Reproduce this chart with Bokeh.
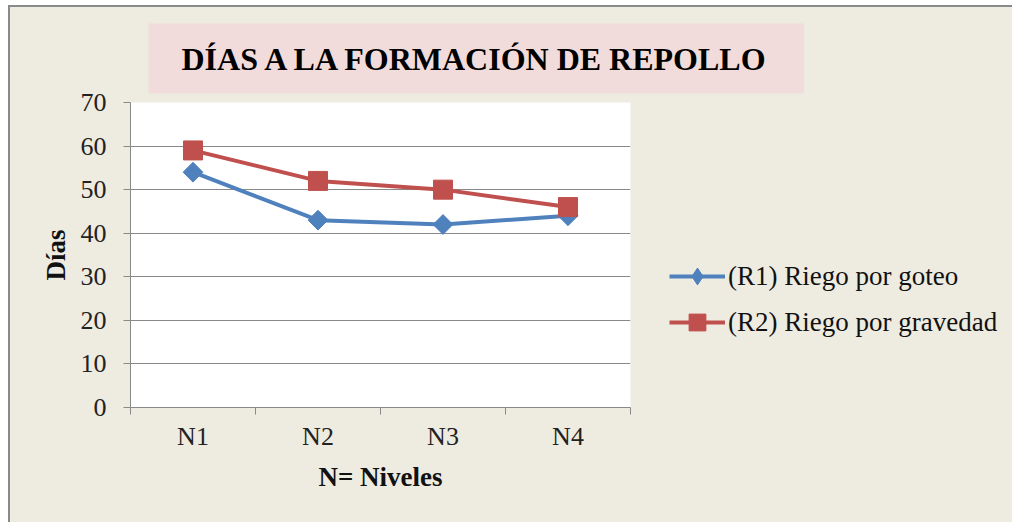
import math
from bokeh.plotting import figure
from bokeh.models import (Range1d, FixedTicker, Legend, LegendItem, Title,
                          ColumnDataSource)
from bokeh.embed import file_html
from bokeh.resources import INLINE

categories = ["N1", "N2", "N3", "N4"]
r1_values = [54, 43, 42, 44]
r2_values = [59, 52, 50, 46]
series_names = ["(R1) Riego por goteo", "(R2) Riego por gravedad"]
y_ticks = [0, 10, 20, 30, 40, 50, 60, 70]
title_text = "DÍAS A LA FORMACIÓN DE REPOLLO"

BG = "#EEEBE1"
PINK = "#F2DCDB"
BLUE = "#4F81BD"
RED = "#C0504D"
GRID = "#898989"
FONT = "Liberation Serif"

xs = [i + 0.5 for i in range(len(categories))]

p = figure(frame_width=500, frame_height=305, output_backend="svg",
           toolbar_location=None,
           x_range=Range1d(0, len(categories)), y_range=Range1d(0, 70),
           min_border_left=120, min_border_top=95, min_border_right=0,
           min_border_bottom=115)
p.styles = {"margin-left": "8px", "margin-top": "5px",
            "border-left": "2px solid #8a8a8a", "border-top": "2px solid #8a8a8a",
            "background-color": BG, "padding-right": "60px"}
p.background_fill_color = "white"
p.border_fill_color = BG
p.outline_line_color = None

# title with pink box
p.title = Title(text=title_text, align="left", offset=18, standoff=18,
                text_font=FONT, text_font_size="32px", text_font_style="bold",
                text_color="#000000", background_fill_color=PINK,
                padding=(33, 17))

# axes
p.xaxis.ticker = FixedTicker(ticks=xs, minor_ticks=list(range(len(categories) + 1)))
p.xaxis.major_label_overrides = {x: c for x, c in zip(xs, categories)}
p.xaxis.major_tick_line_color = None
p.xaxis.minor_tick_line_color = GRID
p.xaxis.minor_tick_out = 7
p.xaxis.minor_tick_in = 0
p.yaxis.ticker = FixedTicker(ticks=y_ticks)
p.yaxis.major_tick_line_color = GRID
p.yaxis.major_tick_out = 7
p.yaxis.major_tick_in = 0
p.yaxis.minor_tick_line_color = None
for ax in (p.xaxis, p.yaxis):
    ax.axis_line_color = GRID
    ax.major_label_text_font = FONT
    ax.major_label_text_font_size = "26px"
    ax.major_label_text_color = "#222222"
    ax.axis_label_text_font = FONT
    ax.axis_label_text_font_size = "27px"
    ax.axis_label_text_font_style = "bold"
    ax.axis_label_text_color = "#111111"
p.xaxis.major_label_standoff = 7
p.yaxis.major_label_standoff = 17
p.xaxis.axis_label = "N= Niveles"
p.yaxis.axis_label = "Días"
p.xaxis.axis_label_standoff = 8
p.yaxis.axis_label_standoff = 7

p.xgrid.grid_line_color = None
p.ygrid.ticker = FixedTicker(ticks=y_ticks)
p.ygrid.grid_line_color = GRID
p.ygrid.grid_line_width = 1

src = ColumnDataSource(dict(x=xs, r1=r1_values, r2=r2_values))
l1 = p.line("x", "r1", source=src, line_color=BLUE, line_width=4)
m1 = p.scatter("x", "r1", source=src, marker="square", size=14, angle=math.pi / 4,
               fill_color=BLUE, line_color=BLUE)
l2 = p.line("x", "r2", source=src, line_color=RED, line_width=4)
m2 = p.scatter("x", "r2", source=src, marker="square", size=19,
               fill_color=RED, line_color=RED)
# legend-only diamond symbol (no visible data point)
key1 = p.scatter(x=[float("nan")], y=[float("nan")], marker="diamond", size=14,
                 fill_color=BLUE, line_color=BLUE)

legend = Legend(items=[LegendItem(label=series_names[0], renderers=[l1, key1]),
                       LegendItem(label=series_names[1], renderers=[l2, m2])],
                location=(39, 64), glyph_width=56, glyph_height=42,
                label_standoff=3, spacing=4, padding=0, margin=0,
                label_text_font=FONT, label_text_font_size="27px",
                label_text_color="#111111",
                border_line_color=None, background_fill_alpha=0)
p.add_layout(legend, "right")

open("out.html", "w").write(file_html(p, INLINE))
